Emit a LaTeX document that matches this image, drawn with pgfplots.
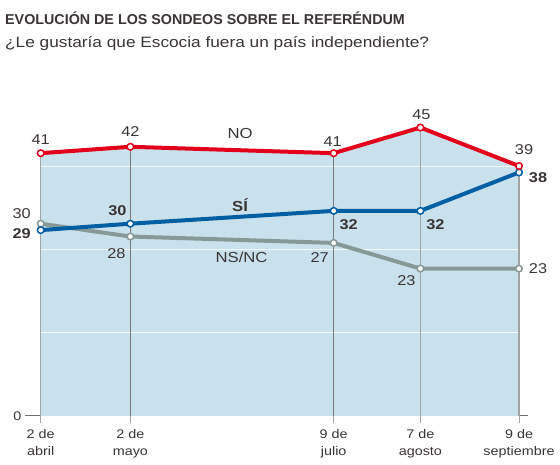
\documentclass[border=0pt]{standalone}
\usepackage{fontspec}
\setmainfont{Liberation Sans}
\newfontfamily\wide{Liberation Sans}[FakeStretch=1.15]
\usepackage{pgfplots}
\pgfplotsset{compat=1.18}
\definecolor{nored}{HTML}{E2001A}
\definecolor{siblue}{HTML}{005EA2}
\definecolor{nsgray}{HTML}{879996}
\definecolor{fillblue}{HTML}{C9E1EC}
\definecolor{txt}{HTML}{3A3434}
\definecolor{axgray}{HTML}{6E6E6E}
\definecolor{vdark}{HTML}{7A7A7A}
\definecolor{vlight}{HTML}{A3A3A3}
\begin{document}
\begin{tikzpicture}
\path[use as bounding box] (0pt,0pt) rectangle (560pt,465pt);
\node[anchor=west,inner sep=0pt,font=\fontsize{14.3}{16}\selectfont\bfseries,text=txt] at (5pt,447pt) {EVOLUCIÓN DE LOS SONDEOS SOBRE EL REFERÉNDUM};
\node[anchor=west,inner sep=0pt,font=\wide\fontsize{15}{16}\selectfont,text=txt] at (5pt,421pt) {¿Le gustaría que Escocia fuera un país independiente?};
\begin{axis}[
  at={(40.7pt,49pt)}, anchor=origin, scale only axis,
  width=503pt, height=320.5pt,
  xmin=-5.25, xmax=163, ymin=0, ymax=50,
  axis x line*=bottom, axis y line=none,
  x axis line style={draw=axgray, line width=1pt, -},
  clip=false,
  xtick={0,30,98,127,160},
  xticklabels={{2 de\\abril},{2 de\\mayo},{9 de\\julio},{7 de\\agosto},{9 de\\septiembre}},
  xticklabel style={align=center, font=\wide\fontsize{12.5}{16.5}\selectfont, text=txt, yshift=-3pt},
  tick align=outside, major tick length=7pt,
  xtick style={draw=vlight, line width=1pt},
  ytick=\empty,
]
% area under NO
\addplot[draw=none, fill=fillblue] coordinates {(0,41) (30,42) (98,41) (127,45) (160,39)} \closedcycle;
% white gridlines
\addplot[white, line width=0.9pt, opacity=0.8] coordinates {(0,13) (160,13)};
\addplot[white, line width=0.9pt, opacity=0.8] coordinates {(0,26) (160,26)};
\addplot[white, line width=0.9pt, opacity=0.8] coordinates {(0,39) (160,39)};
% vertical lines
\addplot[vlight, line width=1.2pt] coordinates {(0,0) (0,41)};
\addplot[vdark, line width=1.1pt] coordinates {(30,0) (30,42)};
\addplot[vdark, line width=1.1pt] coordinates {(98,0) (98,41)};
\addplot[vlight, line width=1.2pt] coordinates {(127,0) (127,45)};
\addplot[vlight, line width=1.2pt] coordinates {(160,0) (160,39)};
% series
\addplot[nsgray, line width=4pt, mark=*, mark size=3.3pt, mark options={fill=white, draw=nsgray, line width=1.5pt}]
  coordinates {(0,30) (30,28) (98,27) (127,23) (160,23)};
\addplot[siblue, line width=4pt, mark=*, mark size=3.3pt, mark options={fill=white, draw=siblue, line width=1.5pt}]
  coordinates {(0,29) (30,30) (98,32) (127,32) (160,38)};
\addplot[nored, line width=4pt, mark=*, mark size=3.3pt, mark options={fill=white, draw=nored, line width=1.5pt}]
  coordinates {(0,41) (30,42) (98,41) (127,45) (160,39)};
% zero label
\node[anchor=east, font=\wide\fontsize{12.5}{14}\selectfont, text=txt] at (axis cs:-5.25,0) {0};
% series labels
\node[font=\wide\fontsize{14.5}{16}\selectfont, text=txt] at (axis cs:66.7,44) {NO};
\node[font=\wide\fontsize{14.5}{16}\selectfont\bfseries, text=txt] at (axis cs:66.7,32.9) {SÍ};
\node[font=\wide\fontsize{14.5}{16}\selectfont, text=txt] at (axis cs:67.2,24.8) {NS/NC};
% NO values
\begin{scope}[every node/.style={font=\wide\fontsize{14.2}{16}\selectfont, text=txt}]
\node[xshift=0pt, yshift=14pt] at (axis cs:0,41) {41};
\node[xshift=0pt, yshift=15pt] at (axis cs:30,42) {42};
\node[xshift=-1pt, yshift=12pt] at (axis cs:98,41) {41};
\node[xshift=1pt, yshift=13pt] at (axis cs:127,45) {45};
\node[xshift=5pt, yshift=16pt] at (axis cs:160,39) {39};
% NS/NC values
\node[xshift=-19pt, yshift=10pt] at (axis cs:0,30) {30};
\node[xshift=-14pt, yshift=-17pt] at (axis cs:30,28) {28};
\node[xshift=-14pt, yshift=-15pt] at (axis cs:98,27) {27};
\node[xshift=-14pt, yshift=-12pt] at (axis cs:127,23) {23};
\node[xshift=19pt, yshift=0pt] at (axis cs:160,23) {23};
\end{scope}
% SI values
\begin{scope}[every node/.style={font=\wide\fontsize{14.2}{16}\selectfont\bfseries, text=txt}]
\node[xshift=-19pt, yshift=-4pt] at (axis cs:0,29) {29};
\node[xshift=-13pt, yshift=13pt] at (axis cs:30,30) {30};
\node[xshift=15pt, yshift=-14pt] at (axis cs:98,32) {32};
\node[xshift=15pt, yshift=-14pt] at (axis cs:127,32) {32};
\node[xshift=19pt, yshift=-5pt] at (axis cs:160,38) {38};
\end{scope}
\end{axis}
\end{tikzpicture}
\end{document}
